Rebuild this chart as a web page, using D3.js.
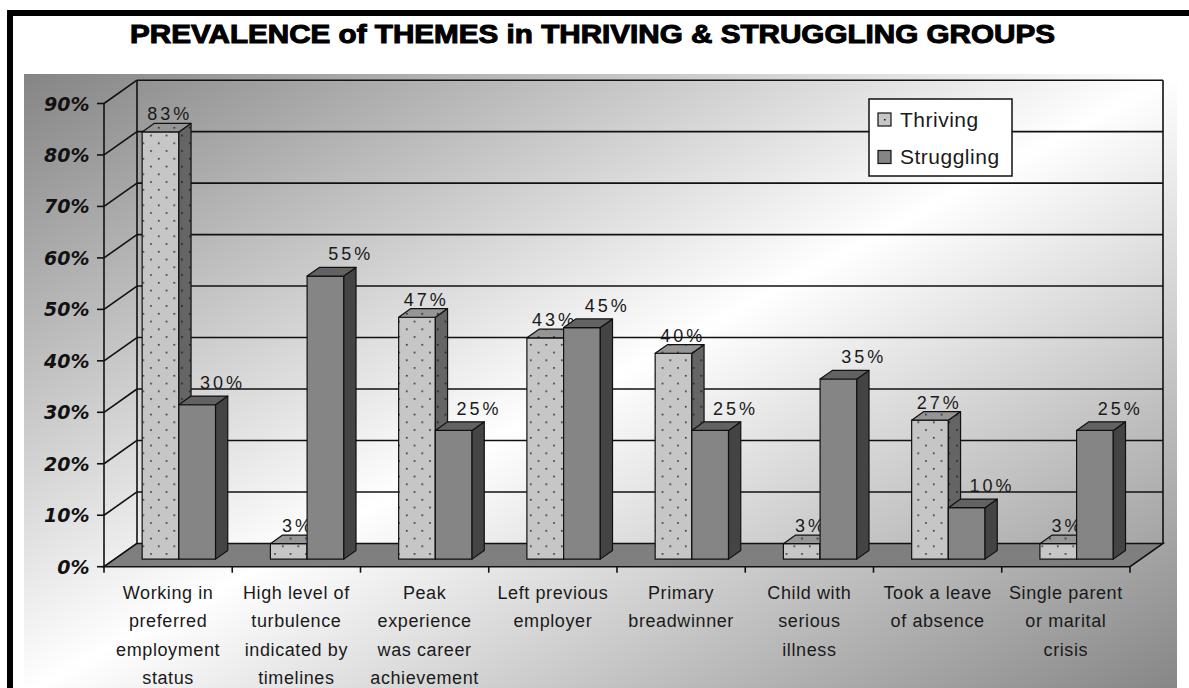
<!DOCTYPE html>
<html><head><meta charset="utf-8">
<script src="https://cdn.jsdelivr.net/npm/d3@7"></script>
<style>body{margin:0;background:#fff}svg{display:block}</style>
</head><body><svg id="c" width="1189" height="688"></svg>
<script>
const title = "PREVALENCE of THEMES in THRIVING & STRUGGLING GROUPS";
const categories = [
  ["Working in","preferred","employment","status"],
  ["High level of","turbulence","indicated by","timelines"],
  ["Peak","experience","was career","achievement"],
  ["Left previous","employer"],
  ["Primary","breadwinner"],
  ["Child with","serious","illness"],
  ["Took a leave","of absence"],
  ["Single parent","or marital","crisis"]
];
const seriesNames = ["Thriving","Struggling"];
const thriving = [83,3,47,43,40,3,27,3];
const struggling = [30,55,25,45,25,35,10,25];
const yTicks = [0,10,20,30,40,50,60,70,80,90];
const yTickLabels = yTicks.map(v => v + "%");

const svg = d3.select("#c");
const defs = svg.append("defs");

// background gradient
const g0 = defs.append("linearGradient").attr("id","bg").attr("x1",0).attr("y1",0).attr("x2",1).attr("y2",1);
g0.append("stop").attr("offset",0).attr("stop-color","#858585");
g0.append("stop").attr("offset",0.5).attr("stop-color","#ffffff");
g0.append("stop").attr("offset",1).attr("stop-color","#858585");

function dotPattern(id, bg){
  const s = 15.5;
  const p = defs.append("pattern").attr("id",id).attr("patternUnits","userSpaceOnUse")
    .attr("width",s).attr("height",s);
  p.append("rect").attr("width",s).attr("height",s).attr("fill",bg);
  p.append("rect").attr("x",3).attr("y",3).attr("width",1.5).attr("height",1.5).attr("fill","#151515");
  p.append("rect").attr("x",3+s/2).attr("y",3+s/2).attr("width",1.5).attr("height",1.5).attr("fill","#151515");
}
dotPattern("tFront","#c6c6c6");
dotPattern("tSide","#656565");
dotPattern("tTop","#959595");

const faceFill = [
  {front:"url(#tFront)", side:"url(#tSide)", top:"url(#tTop)"},
  {front:"#858585", side:"#444444", top:"#626262"}
];

// outer frame and panel
svg.append("rect").attr("x",24).attr("y",74).attr("width",1153).attr("height",620).attr("fill","url(#bg)");
svg.append("rect").attr("x",10).attr("y",13).attr("width",1200).attr("height",700)
  .attr("fill","none").attr("stroke","#000").attr("stroke-width",6);

svg.append("text").attr("x",130).attr("y",43).attr("textLength",925).attr("lengthAdjust","spacingAndGlyphs")
  .attr("font-family","Liberation Sans, Arial, sans-serif").attr("font-weight","bold").attr("font-size",25)
  .attr("stroke","#000").attr("stroke-width",1).attr("fill","#000").text(title);

// geometry
const x = d3.scaleBand().domain(d3.range(categories.length)).range([104,1130]);
const y = d3.scaleLinear().domain([0,90]).range([566.7,103.5]);
const DX = 33, DY = -23.3;
const P = (px,py,d) => [px + d*DX, py + d*DY];
const d1 = 0.325, d2 = 0.695;
const barW = 36.7;
const line = d3.line();

const axisG = svg.append("g").attr("stroke","#111").attr("stroke-width",1.6).attr("fill","none");
// floor
const f = [P(104,y(0),0),P(1130,y(0),0),P(1130,y(0),1),P(104,y(0),1)];
svg.append("path").attr("d",line(f)+"Z").attr("fill","#7f7f7f").attr("stroke","#111").attr("stroke-width",1.5);

// back wall gridlines
yTicks.slice(1).forEach(v => {
  axisG.append("path").attr("d",line([P(104,y(v),1),P(1130,y(v),1)]));
});
axisG.append("path").attr("d",line([P(104,y(0),1),P(104,y(90),1)]));
axisG.append("path").attr("d",line([P(1130,y(0),1),P(1130,y(90),1)]));
// side wall diagonals and front y axis
yTicks.forEach(v => {
  axisG.append("path").attr("d",line([P(104,y(v),0),P(104,y(v),1)]));
  axisG.append("path").attr("d",line([[97,y(v)],[104,y(v)]]));
});
axisG.append("path").attr("d",line([[104,y(0)],[104,y(90)]]));
// category ticks
d3.range(categories.length+1).forEach(i => {
  const xx = i < categories.length ? x(i) : x.range()[1];
  axisG.append("path").attr("d",line([[xx,y(0)],[xx,y(0)+6]]));
});

// y labels
svg.append("g").selectAll("text").data(yTicks).join("text")
  .attr("x",89.5).attr("y",v => y(v)+7).attr("text-anchor","end")
  .attr("font-family","DejaVu Sans, sans-serif").attr("font-weight","bold").attr("font-style","italic")
  .attr("font-size",19).attr("fill","#111").text((v,i) => yTickLabels[i]);

// x labels
const xl = svg.append("g").attr("font-family","Liberation Sans, Arial, sans-serif").attr("font-size",18)
  .attr("fill","#1a1a1a").attr("letter-spacing",0.6).attr("text-anchor","middle");
categories.forEach((lines,i) => {
  const t = xl.append("text").attr("x",x(i)+x.bandwidth()/2).attr("y",600);
  lines.forEach((s,j) => t.append("tspan").attr("x",x(i)+x.bandwidth()/2).attr("y",599+j*28.3).text(s));
});

// bars
const barsG = svg.append("g");
const series = [thriving, struggling];
categories.forEach((c,i) => {
  const cx = x(i) + x.bandwidth()/2;
  series.forEach((vals,s) => {
    const v = vals[i];
    const x0 = cx - barW + s*barW, x1 = x0 + barW;
    const yb = y(0), yt = y(v);
    const g = barsG.append("g").attr("stroke","#111").attr("stroke-width",1.2).attr("stroke-linejoin","round");
    g.append("path").attr("d",line([P(x0,yb,d1),P(x1,yb,d1),P(x1,yt,d1),P(x0,yt,d1)])+"Z").attr("fill",faceFill[s].front);
    g.append("path").attr("d",line([P(x1,yb,d1),P(x1,yb,d2),P(x1,yt,d2),P(x1,yt,d1)])+"Z").attr("fill",faceFill[s].side);
    g.append("path").attr("d",line([P(x0,yt,d1),P(x1,yt,d1),P(x1,yt,d2),P(x0,yt,d2)])+"Z").attr("fill",faceFill[s].top);
    const lp = P((x0+x1)/2, yt, d2);
    barsG.append("text").attr("x",lp[0] + (s===0 ? -3 : 13)).attr("y",lp[1] - (s===0 ? 3 : 7))
      .attr("text-anchor","middle").attr("font-family","Liberation Sans, Arial, sans-serif")
      .attr("font-size",18).attr("letter-spacing",3).attr("fill","#1a1a1a").text(v + "%");
  });
});

// legend
const lg = svg.append("g");
lg.append("rect").attr("x",869).attr("y",99).attr("width",143).attr("height",77)
  .attr("fill","#fff").attr("stroke","#111").attr("stroke-width",1.5);
seriesNames.forEach((n,i) => {
  const yy = 113 + i*37.5;
  lg.append("rect").attr("x",878).attr("y",yy).attr("width",13).attr("height",13)
    .attr("fill", i===0 ? "#c6c6c6" : "#858585").attr("stroke","#111").attr("stroke-width",1.2);
  if(i===0) lg.append("rect").attr("x",884).attr("y",119).attr("width",1.5).attr("height",1.5).attr("fill","#111");
  lg.append("text").attr("x",900).attr("y",yy+13.5).attr("font-family","Liberation Sans, Arial, sans-serif")
    .attr("font-size",21).attr("letter-spacing",0.5).attr("fill","#1a1a1a").text(n);
});
</script></body></html>
